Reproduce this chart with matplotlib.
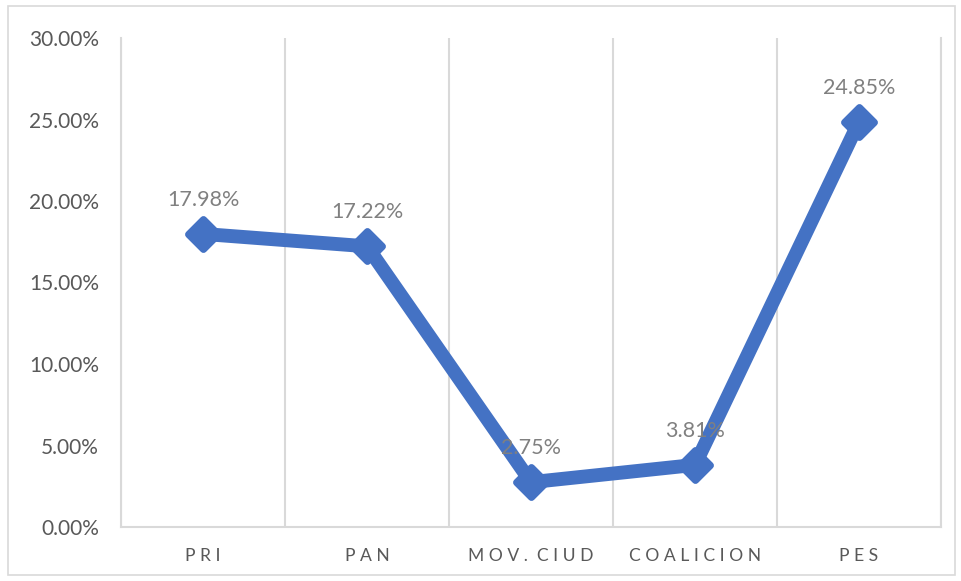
import numpy as np
import matplotlib.pyplot as plt
from matplotlib.patches import Rectangle
from matplotlib.markers import MarkerStyle
from matplotlib.ticker import FuncFormatter

plt.rcParams['font.family'] = ['Lato', 'DejaVu Sans']

categorias = ['PRI', 'PAN', 'MOV. CIUD', 'COALICION', 'PES']
valores = [0.1798, 0.1722, 0.0275, 0.0381, 0.2485]
etiquetas = ['17.98%', '17.22%', '2.75%', '3.81%', '24.85%']

azul = '#4472C4'
gris_txt = '#595959'
gris_lin = '#D9D9D9'

fig = plt.figure(figsize=(9.61, 5.81), dpi=100)
# marco exterior gris claro
fig.patches.append(Rectangle((8 / 961, 6 / 581), 947 / 961, 569 / 581,
                             transform=fig.transFigure, fill=False,
                             edgecolor=gris_lin, lw=1.2))
ax = fig.add_axes([121 / 961, 54 / 581, 820 / 961, 489 / 581])

x = np.arange(len(categorias))
ax.plot(x, valores, color=azul, lw=10, marker=MarkerStyle('D', joinstyle='round'),
        markersize=15, mec=azul, mew=5,
        solid_joinstyle='round', solid_capstyle='round', zorder=3)

# etiquetas de datos sobre cada punto
for xi, v, t in zip(x, valores, etiquetas):
    ax.annotate(t, (xi, v), xytext=(0, 34), textcoords='offset pixels',
                ha='center', va='center', fontsize=15.5, color='#808080', zorder=4)

ax.set_xlim(-0.5, len(categorias) - 0.5)
ax.set_ylim(0, 0.30)
ax.set_yticks(np.arange(0, 0.301, 0.05))
ax.yaxis.set_major_formatter(FuncFormatter(lambda v, p: f'{v * 100:.2f}%'))
ax.set_xticks(x)
ax.set_xticklabels([' '.join(c.replace(' ', '')).replace('. ', '.  ') for c in categorias])
ax.set_xticks(np.arange(-0.5, len(categorias), 1), minor=True)
ax.grid(True, which='minor', axis='x', color=gris_lin, lw=1.5)
ax.tick_params(axis='both', which='both', length=0)
ax.tick_params(axis='y', labelsize=15, labelcolor=gris_txt, pad=16)
ax.tick_params(axis='x', labelsize=12.6, labelcolor=gris_txt, pad=15)

ax.spines['top'].set_visible(False)
for s in ['left', 'right', 'bottom']:
    ax.spines[s].set_color(gris_lin)
    ax.spines[s].set_linewidth(1.5)

fig.savefig('out.png', dpi=100)
